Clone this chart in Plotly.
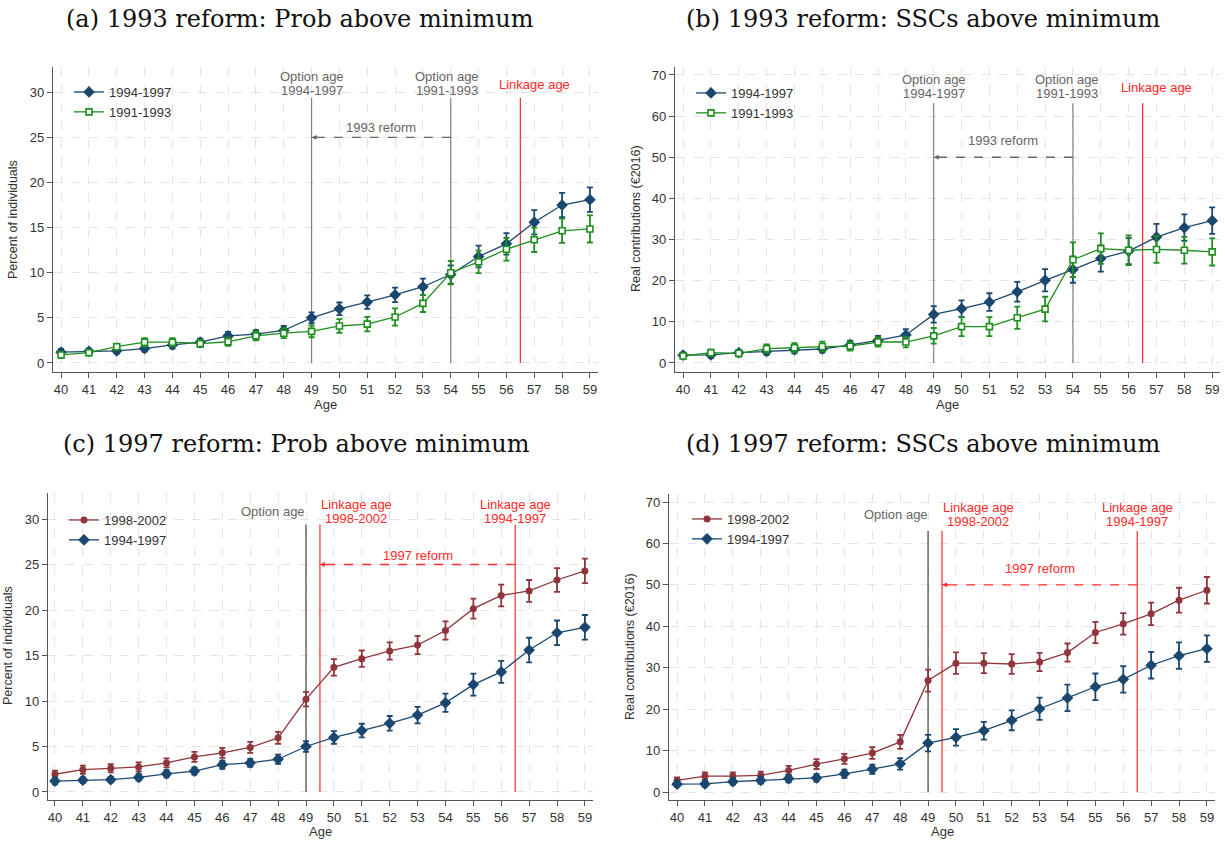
import plotly.graph_objects as go

# ---------------- data ----------------
ages = list(range(40, 60))

# Probability above minimum (percent of individuals)
prob_9497 = [1.2, 1.3, 1.35, 1.6, 2.0, 2.3, 3.0, 3.2, 3.6, 5.0, 6.0, 6.75, 7.55, 8.45, 9.8, 11.8, 13.2, 15.6, 17.5, 18.1]
prob_9497_err = [0.35, 0.3, 0.3, 0.35, 0.4, 0.4, 0.45, 0.45, 0.5, 0.6, 0.7, 0.75, 0.8, 0.9, 1.0, 1.2, 1.2, 1.35, 1.35, 1.35]
prob_9193 = [0.9, 1.15, 1.8, 2.3, 2.3, 2.15, 2.35, 3.0, 3.3, 3.5, 4.1, 4.3, 5.1, 6.6, 10.0, 11.2, 12.6, 13.65, 14.65, 14.85]
prob_9193_err = [0.3, 0.3, 0.35, 0.45, 0.45, 0.4, 0.45, 0.5, 0.55, 0.65, 0.75, 0.8, 0.95, 0.95, 1.3, 1.25, 1.25, 1.35, 1.35, 1.5]
prob_9802 = [1.95, 2.45, 2.6, 2.75, 3.2, 3.85, 4.3, 4.9, 5.95, 10.2, 13.7, 14.65, 15.5, 16.15, 17.75, 20.15, 21.6, 22.1, 23.3, 24.3]
prob_9802_err = [0.4, 0.45, 0.45, 0.5, 0.5, 0.55, 0.55, 0.6, 0.65, 0.8, 0.9, 0.9, 0.95, 1.0, 1.0, 1.1, 1.2, 1.2, 1.3, 1.35]

# SSCs above minimum (real contributions, EUR 2016)
ssc_9497 = [1.9, 1.95, 2.5, 2.8, 3.25, 3.4, 4.4, 5.5, 6.8, 11.8, 13.2, 14.8, 17.3, 20.1, 22.7, 25.4, 27.2, 30.6, 32.9, 34.6]
ssc_9497_err = [0.6, 0.7, 0.7, 0.8, 0.9, 0.9, 1.0, 1.1, 1.4, 2.0, 2.0, 2.15, 2.4, 2.7, 3.2, 3.2, 3.2, 3.2, 3.2, 3.2]
ssc_9193 = [1.7, 2.5, 2.35, 3.5, 3.7, 4.0, 4.1, 5.1, 5.1, 6.6, 8.85, 8.85, 11.0, 13.1, 25.1, 27.8, 27.4, 27.6, 27.4, 27.0]
ssc_9193_err = [0.6, 0.8, 0.8, 1.0, 1.1, 1.2, 1.1, 1.1, 1.3, 1.9, 2.3, 2.3, 2.7, 3.0, 4.2, 3.7, 3.6, 3.25, 3.25, 3.3]
ssc_9802 = [2.8, 3.85, 3.85, 4.0, 5.2, 6.75, 8.0, 9.4, 12.1, 26.9, 31.1, 31.1, 30.9, 31.4, 33.65, 38.5, 40.6, 43.0, 46.3, 48.7]
ssc_9802_err = [0.7, 0.9, 0.9, 0.9, 1.1, 1.2, 1.2, 1.4, 1.7, 2.65, 2.6, 2.4, 2.4, 2.2, 2.2, 2.55, 2.6, 2.7, 3.0, 3.2]

titles = ["(a) 1993 reform: Prob above minimum", "(b) 1993 reform: SSCs above minimum",
          "(c) 1997 reform: Prob above minimum", "(d) 1997 reform: SSCs above minimum"]
ytitles = ["Percent of individuals", "Real contributions (€2016)",
           "Percent of individuals", "Real contributions (€2016)"]
yticks_prob = [0, 5, 10, 15, 20, 25, 30]
yticks_ssc = [0, 10, 20, 30, 40, 50, 60, 70]

# ---------------- style ----------------
W, H = 1225, 841
NAVY = "#1a476f"
GREEN = "#1f8f1f"
MAROON = "#90353b"
GRAYL = "#808080"
DARKL = "#404040"
RED = "#ff2a2a"
SANS = "Liberation Sans, Arial, sans-serif"
SERIF = "DejaVu Serif, serif"

def px_x(p):
    return p / W

def px_y(p):
    return 1 - p / H

# panel geometry (pixels): left, right, top, bottom ; axis ranges
panels = [
    dict(x0=53, x1=598, t=67, b=372, xr=[39.71, 59.29], yr=[-1.0, 32.8], yt=yticks_prob),
    dict(x0=675, x1=1220, t=67, b=372, xr=[39.71, 59.28], yr=[-2.19, 71.94], yt=yticks_ssc),
    dict(x0=48, x1=593, t=493, b=800, xr=[39.75, 59.29], yr=[-0.88, 32.86], yt=yticks_prob),
    dict(x0=669, x1=1215, t=494, b=800, xr=[39.71, 59.29], yr=[-1.93, 71.93], yt=yticks_ssc),
]

fig = go.Figure()

def add_series(k, y, err, name, color, symbol, size, hollow=False):
    suffix = "" if k == 0 else str(k + 1)
    marker = dict(color="white" if hollow else color, symbol=symbol, size=size,
                  line=dict(color=color, width=1.6 if hollow else 0))
    fig.add_trace(go.Scatter(
        x=ages, y=y, name=name, mode="lines+markers",
        line=dict(color=color, width=1.3),
        marker=marker,
        error_y=dict(type="data", array=err, visible=True, color=color, thickness=1.8, width=3),
        xaxis="x" + suffix, yaxis="y" + suffix, legend="legend" + suffix,
        cliponaxis=False,
    ))

add_series(0, prob_9497, prob_9497_err, "1994-1997", NAVY, "diamond", 9)
add_series(0, prob_9193, prob_9193_err, "1991-1993", GREEN, "square", 6, hollow=True)
add_series(1, ssc_9497, ssc_9497_err, "1994-1997", NAVY, "diamond", 9)
add_series(1, ssc_9193, ssc_9193_err, "1991-1993", GREEN, "square", 6, hollow=True)
add_series(2, prob_9802, prob_9802_err, "1998-2002", MAROON, "circle", 7)
add_series(2, prob_9497, prob_9497_err, "1994-1997", NAVY, "diamond", 9)
add_series(3, ssc_9802, ssc_9802_err, "1998-2002", MAROON, "circle", 7)
add_series(3, ssc_9497, ssc_9497_err, "1994-1997", NAVY, "diamond", 9)

layout = dict(
    width=W, height=H, margin=dict(l=0, r=0, t=0, b=0),
    paper_bgcolor="white", plot_bgcolor="white",
    font=dict(family=SANS, size=13, color="#333333"),
    showlegend=True,
)

for k, p in enumerate(panels):
    suffix = "" if k == 0 else str(k + 1)
    layout["xaxis" + suffix] = dict(
        domain=[px_x(p["x0"]), px_x(p["x1"])], range=p["xr"], anchor="y" + suffix,
        tickmode="array", tickvals=ages, ticktext=[str(a) for a in ages],
        showgrid=True, gridcolor="#e4e4e4", griddash="dash", gridwidth=1,
        showline=True, linecolor="#555555", linewidth=1.3,
        ticks="outside", ticklen=5, tickcolor="#555555", tickwidth=1,
        tickfont=dict(size=13, color="#333333", family=SANS), zeroline=False,
    )
    layout["yaxis" + suffix] = dict(
        domain=[px_y(p["b"]), px_y(p["t"])], range=p["yr"], anchor="x" + suffix,
        tickmode="array", tickvals=p["yt"], ticktext=[str(v) for v in p["yt"]],
        showgrid=True, gridcolor="#e4e4e4", griddash="dash", gridwidth=1,
        showline=True, linecolor="#555555", linewidth=1.3,
        ticks="outside", ticklen=5, tickcolor="#555555", tickwidth=1,
        tickfont=dict(size=13, color="#333333", family=SANS), zeroline=False,
    )

# legends
legend_pos = [(69, 77), (691, 78), (64, 505), (687, 504)]
for k, (lx, ly) in enumerate(legend_pos):
    key = "legend" if k == 0 else "legend" + str(k + 1)
    layout[key] = dict(
        x=px_x(lx), y=px_y(ly), xanchor="left", yanchor="top",
        bgcolor="rgba(0,0,0,0)", borderwidth=0,
        font=dict(size=13, color="#333333", family=SANS),
        tracegroupgap=0, itemwidth=30,
    )

fig.update_layout(**layout)

annotations = []
shapes = []

def text(k, x, y, s, color, size=13):
    suffix = "" if k == 0 else str(k + 1)
    annotations.append(dict(x=x, y=y, xref="x" + suffix, yref="y" + suffix, text=s,
                            showarrow=False, font=dict(size=size, color=color, family=SANS),
                            xanchor="center", yanchor="middle", borderpad=0))

def vline(k, x, ytop, color, width=1.2):
    suffix = "" if k == 0 else str(k + 1)
    shapes.append(dict(type="line", xref="x" + suffix, yref="y" + suffix, x0=x, x1=x, y0=0, y1=ytop,
                       line=dict(color=color, width=width), layer="between"))

def arrow(k, xstart, xend, y, color):
    suffix = "" if k == 0 else str(k + 1)
    shapes.append(dict(type="line", xref="x" + suffix, yref="y" + suffix, x0=xstart, x1=xend, y0=y, y1=y,
                       line=dict(color=color, width=1.3, dash="dash"), layer="between"))
    annotations.append(dict(x=xend, y=y, ax=xend + 0.3, ay=y, xref="x" + suffix, yref="y" + suffix,
                            axref="x" + suffix, ayref="y" + suffix, text="", showarrow=True,
                            arrowhead=2, arrowsize=0.9, arrowwidth=1.1, arrowcolor=color))

TXTG = "#666666"
# panel (a)
vline(0, 49, 29.4, GRAYL); vline(0, 54, 29.4, GRAYL); vline(0, 56.5, 29.4, RED)
text(0, 49, 31.75, "Option age", TXTG); text(0, 49, 30.2, "1994-1997", TXTG)
text(0, 53.85, 31.75, "Option age", TXTG); text(0, 53.85, 30.2, "1991-1993", TXTG)
text(0, 57.0, 30.9, "Linkage age", RED)
arrow(0, 54, 49, 25, TXTG)
text(0, 51.5, 26.1, "1993 reform", TXTG)

# panel (b)
vline(1, 49, 63.1, GRAYL); vline(1, 54, 63.1, GRAYL); vline(1, 56.5, 63.1, RED)
text(1, 49, 68.8, "Option age", TXTG); text(1, 49, 65.4, "1994-1997", TXTG)
text(1, 53.8, 68.8, "Option age", TXTG); text(1, 53.8, 65.4, "1991-1993", TXTG)
text(1, 57.0, 67.0, "Linkage age", RED)
arrow(1, 54, 49, 50, TXTG)
text(1, 51.5, 54.0, "1993 reform", TXTG)

# panel (c)
vline(2, 49, 29.4, DARKL); vline(2, 49.5, 29.4, RED); vline(2, 56.5, 29.4, RED)
text(2, 47.8, 30.8, "Option age", TXTG)
text(2, 50.8, 31.65, "Linkage age", RED); text(2, 50.8, 30.1, "1998-2002", RED)
text(2, 56.5, 31.65, "Linkage age", RED); text(2, 56.5, 30.1, "1994-1997", RED)
arrow(2, 56.5, 49.5, 25, RED)
text(2, 53.0, 26.0, "1997 reform", RED)

# panel (d)
vline(3, 49, 63.0, DARKL); vline(3, 49.5, 63.0, RED); vline(3, 56.5, 63.0, RED)
text(3, 47.85, 67.0, "Option age", TXTG)
text(3, 50.8, 68.7, "Linkage age", RED); text(3, 50.8, 65.3, "1998-2002", RED)
text(3, 56.5, 68.7, "Linkage age", RED); text(3, 56.5, 65.3, "1994-1997", RED)
arrow(3, 56.5, 49.5, 50, RED)
text(3, 53.0, 54.0, "1997 reform", RED)

# panel titles
title_pos = [(300, 19), (923, 19), (296, 444), (923, 444)]
for s, (tx, ty) in zip(titles, title_pos):
    annotations.append(dict(x=px_x(tx), y=px_y(ty), xref="paper", yref="paper", text=s, showarrow=False,
                            font=dict(family=SERIF, size=24, color="#111111"),
                            xanchor="center", yanchor="middle"))

# axis titles
ytitle_pos = [(13, 220), (636, 219), (8, 646), (630, 646)]
for s, (tx, ty) in zip(ytitles, ytitle_pos):
    annotations.append(dict(x=px_x(tx), y=px_y(ty), xref="paper", yref="paper", text=s, showarrow=False,
                            textangle=-90, font=dict(family=SANS, size=12.5, color="#333333"),
                            xanchor="center", yanchor="middle"))
xtitle_pos = [(325, 404), (947, 404), (320, 831), (942, 831)]
for (tx, ty) in xtitle_pos:
    annotations.append(dict(x=px_x(tx), y=px_y(ty), xref="paper", yref="paper", text="Age", showarrow=False,
                            font=dict(family=SANS, size=13, color="#333333"),
                            xanchor="center", yanchor="middle"))

fig.update_layout(annotations=annotations, shapes=shapes)
fig.write_html("out.html", config={"displayModeBar": False},
               post_script="document.body.style.margin='0';document.body.style.overflow='hidden';")
